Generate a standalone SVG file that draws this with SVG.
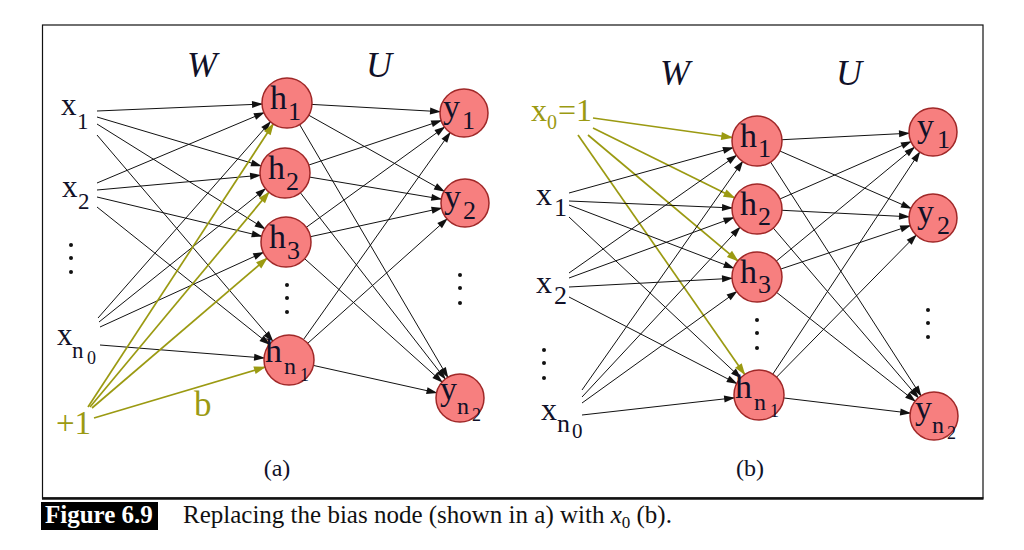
<svg xmlns="http://www.w3.org/2000/svg" width="1024" height="550" viewBox="0 0 1024 550">
<style>
  .e { stroke: #111; stroke-width: 1; fill: none; }
  .eh { marker-end: url(#ah); }
  .ey { marker-end: url(#ay); }
  .o { stroke: #9b9a12; stroke-width: 1.7; fill: none; marker-end: url(#ao); }
  .node { fill: #f77f7f; stroke: #a02828; stroke-width: 1.5; }
  .t { font-family: "Liberation Serif", "Times New Roman", serif; fill: #111128; }
  .m { font-size: 34px; }
  .s { font-size: 26px; }
  .sn { font-size: 24px; }
  .ss { font-size: 18px; }
  .xa { font-size: 31px; }
  .xas { font-size: 23px; }
  .xb { font-size: 32px; }
  .xbs { font-size: 26px; }
  .ol { fill: #9b9a12; }
  .it { font-style: italic; font-size: 36px; text-anchor: middle; }
  .dot { fill: #111; }
</style>
<defs>
  <marker id="ah" markerUnits="userSpaceOnUse" markerWidth="11" markerHeight="7" refX="35" refY="3.5" orient="auto" overflow="visible">
    <path d="M0,0 L11,3.5 L0,7 z" fill="#111"/>
  </marker>
  <marker id="ay" markerUnits="userSpaceOnUse" markerWidth="11" markerHeight="7" refX="34" refY="3.5" orient="auto" overflow="visible">
    <path d="M0,0 L11,3.5 L0,7 z" fill="#111"/>
  </marker>
  <marker id="ao" markerUnits="userSpaceOnUse" markerWidth="12" markerHeight="8" refX="36" refY="4" orient="auto" overflow="visible">
    <path d="M0,0 L12,4 L0,8 z" fill="#9b9a12"/>
  </marker>
</defs>
<rect width="1024" height="550" fill="#fff"/>
<g id="frame">
  <rect x="42.5" y="25" width="940.5" height="473" fill="none" stroke="#111" stroke-width="1.2"/>
  <line x1="42" y1="498.5" x2="983.5" y2="498.5" stroke="#111" stroke-width="2.5"/>
</g>
<g id="connectors">
  <line class="e eh" x1="97" y1="111" x2="287" y2="103"/>
  <line class="e eh" x1="97" y1="117" x2="285" y2="173"/>
  <line class="e eh" x1="97" y1="124" x2="286" y2="242"/>
  <line class="e eh" x1="97" y1="135" x2="289" y2="360"/>
  <line class="e eh" x1="97" y1="183" x2="287" y2="103"/>
  <line class="e eh" x1="97" y1="190" x2="285" y2="173"/>
  <line class="e eh" x1="97" y1="197" x2="286" y2="242"/>
  <line class="e eh" x1="97" y1="207" x2="289" y2="360"/>
  <line class="e eh" x1="98" y1="318" x2="287" y2="103"/>
  <line class="e eh" x1="99" y1="322" x2="285" y2="173"/>
  <line class="e eh" x1="100" y1="327" x2="286" y2="242"/>
  <line class="e eh" x1="100" y1="345" x2="289" y2="360"/>
  <line class="o" x1="88" y1="407" x2="287" y2="103"/>
  <line class="o" x1="90" y1="407" x2="285" y2="173"/>
  <line class="o" x1="92" y1="408" x2="286" y2="242"/>
  <line class="o" x1="94" y1="418" x2="289" y2="360"/>
  <line class="e ey" x1="287" y1="103" x2="464" y2="113"/>
  <line class="e ey" x1="287" y1="103" x2="465" y2="203"/>
  <line class="e ey" x1="287" y1="103" x2="460" y2="398"/>
  <line class="e ey" x1="285" y1="173" x2="464" y2="113"/>
  <line class="e ey" x1="285" y1="173" x2="465" y2="203"/>
  <line class="e ey" x1="285" y1="173" x2="460" y2="398"/>
  <line class="e ey" x1="286" y1="242" x2="464" y2="113"/>
  <line class="e ey" x1="286" y1="242" x2="465" y2="203"/>
  <line class="e ey" x1="286" y1="242" x2="460" y2="398"/>
  <line class="e ey" x1="289" y1="360" x2="464" y2="113"/>
  <line class="e ey" x1="289" y1="360" x2="465" y2="203"/>
  <line class="e ey" x1="289" y1="360" x2="460" y2="398"/>
  <line class="o" x1="593" y1="118" x2="757" y2="141"/>
  <line class="o" x1="593" y1="128" x2="757" y2="209"/>
  <line class="o" x1="588" y1="135" x2="757" y2="277"/>
  <line class="o" x1="578" y1="135" x2="759" y2="395"/>
  <line class="e eh" x1="569" y1="193" x2="757" y2="141"/>
  <line class="e eh" x1="569" y1="201" x2="757" y2="209"/>
  <line class="e eh" x1="569" y1="205" x2="757" y2="277"/>
  <line class="e eh" x1="569" y1="217" x2="759" y2="395"/>
  <line class="e eh" x1="569" y1="273" x2="757" y2="141"/>
  <line class="e eh" x1="569" y1="278" x2="757" y2="209"/>
  <line class="e eh" x1="569" y1="287" x2="757" y2="277"/>
  <line class="e eh" x1="569" y1="297" x2="759" y2="395"/>
  <line class="e eh" x1="582" y1="390" x2="757" y2="141"/>
  <line class="e eh" x1="582" y1="397" x2="757" y2="209"/>
  <line class="e eh" x1="582" y1="403" x2="757" y2="277"/>
  <line class="e eh" x1="582" y1="415" x2="759" y2="395"/>
  <line class="e ey" x1="757" y1="141" x2="933" y2="132"/>
  <line class="e ey" x1="757" y1="141" x2="933" y2="218"/>
  <line class="e ey" x1="757" y1="141" x2="934" y2="416"/>
  <line class="e ey" x1="757" y1="209" x2="933" y2="132"/>
  <line class="e ey" x1="757" y1="209" x2="933" y2="218"/>
  <line class="e ey" x1="757" y1="209" x2="934" y2="416"/>
  <line class="e ey" x1="757" y1="277" x2="933" y2="132"/>
  <line class="e ey" x1="757" y1="277" x2="933" y2="218"/>
  <line class="e ey" x1="757" y1="277" x2="934" y2="416"/>
  <line class="e ey" x1="759" y1="395" x2="933" y2="132"/>
  <line class="e ey" x1="759" y1="395" x2="933" y2="218"/>
  <line class="e ey" x1="759" y1="395" x2="934" y2="416"/>
</g>
<g id="a-weights">
  <text class="t it" x="202" y="77">W</text>
  <text class="t it" x="379" y="77">U</text>
</g>
<g id="a-x1"><text class="t xa" x="61" y="115">x<tspan class="xas" x="77" y="129">1</tspan></text></g>
<g id="a-x2"><text class="t xa" x="62" y="197">x<tspan class="xas" x="78" y="209">2</tspan></text></g>
<g id="a-xdots"><circle class="dot" cx="71" cy="245" r="2"/><circle class="dot" cx="71" cy="258" r="2"/><circle class="dot" cx="71" cy="272" r="2"/></g>
<g id="a-xn0"><text class="t xa" x="57" y="345">x<tspan class="xas" x="72" y="358">n</tspan><tspan class="ss" x="87" y="364">0</tspan></text></g>
<g id="a-bias"><text class="t ol" x="56" y="434" font-size="33">+1</text></g>
<g id="a-b"><text class="t ol" x="194" y="416" font-size="35">b</text></g>
<g id="a-h1"><circle class="node" cx="287" cy="103" r="25"/><text class="t m" x="270" y="109">h<tspan class="s" x="288" y="120">1</tspan></text></g>
<g id="a-h2"><circle class="node" cx="285" cy="173" r="25"/><text class="t m" x="268" y="179">h<tspan class="s" x="286" y="190">2</tspan></text></g>
<g id="a-h3"><circle class="node" cx="286" cy="242" r="25"/><text class="t m" x="269" y="248">h<tspan class="s" x="287" y="259">3</tspan></text></g>
<g id="a-hdots"><circle class="dot" cx="287" cy="285" r="2"/><circle class="dot" cx="287" cy="298" r="2"/><circle class="dot" cx="287" cy="312" r="2"/></g>
<g id="a-hn1"><circle class="node" cx="289" cy="360" r="25"/><text class="t m" x="265" y="362">h<tspan class="sn" x="284" y="374">n</tspan><tspan class="ss" x="300" y="381">1</tspan></text></g>
<g id="a-y1"><circle class="node" cx="464" cy="113" r="24"/><text class="t m" x="443" y="118">y<tspan class="s" x="462" y="129">1</tspan></text></g>
<g id="a-y2"><circle class="node" cx="465" cy="203" r="24"/><text class="t m" x="444" y="208">y<tspan class="s" x="463" y="219">2</tspan></text></g>
<g id="a-ydots"><circle class="dot" cx="460" cy="275" r="2"/><circle class="dot" cx="460" cy="288" r="2"/><circle class="dot" cx="460" cy="303" r="2"/></g>
<g id="a-yn2"><circle class="node" cx="460" cy="398" r="24"/><text class="t m" x="440" y="400">y<tspan class="sn" x="457" y="414">n</tspan><tspan class="ss" x="472" y="421">2</tspan></text></g>
<g id="a-caption"><text class="t" x="277" y="476" font-size="24" text-anchor="middle">(a)</text></g>
<g id="b-weights">
  <text class="t it" x="675" y="85">W</text>
  <text class="t it" x="849" y="85">U</text>
</g>
<g id="b-x0"><text class="t ol xb" x="531" y="121">x<tspan font-size="20" x="547" y="129">0</tspan><tspan x="558" y="121">=1</tspan></text></g>
<g id="b-x1"><text class="t xb" x="536" y="205">x<tspan class="xbs" x="554" y="216">1</tspan></text></g>
<g id="b-x2"><text class="t xb" x="536" y="293">x<tspan class="xbs" x="554" y="304">2</tspan></text></g>
<g id="b-xdots"><circle class="dot" cx="544" cy="350" r="2"/><circle class="dot" cx="544" cy="363" r="2"/><circle class="dot" cx="544" cy="378" r="2"/></g>
<g id="b-xn0"><text class="t xb" x="541" y="420">x<tspan class="xbs" x="557" y="432">n</tspan><tspan font-size="21" x="572" y="438">0</tspan></text></g>
<g id="b-h1"><circle class="node" cx="757" cy="141" r="25"/><text class="t m" x="740" y="147">h<tspan class="s" x="758" y="157">1</tspan></text></g>
<g id="b-h2"><circle class="node" cx="757" cy="209" r="25"/><text class="t m" x="740" y="215">h<tspan class="s" x="758" y="225">2</tspan></text></g>
<g id="b-h3"><circle class="node" cx="757" cy="277" r="25"/><text class="t m" x="740" y="283">h<tspan class="s" x="758" y="293">3</tspan></text></g>
<g id="b-hdots"><circle class="dot" cx="757" cy="320" r="2"/><circle class="dot" cx="757" cy="333" r="2"/><circle class="dot" cx="757" cy="348" r="2"/></g>
<g id="b-hn1"><circle class="node" cx="759" cy="395" r="25"/><text class="t m" x="735" y="398">h<tspan class="sn" x="754" y="410">n</tspan><tspan class="ss" x="770" y="417">1</tspan></text></g>
<g id="b-y1"><circle class="node" cx="933" cy="132" r="24"/><text class="t m" x="917" y="137">y<tspan class="s" x="937" y="148">1</tspan></text></g>
<g id="b-y2"><circle class="node" cx="933" cy="218" r="24"/><text class="t m" x="917" y="223">y<tspan class="s" x="937" y="234">2</tspan></text></g>
<g id="b-ydots"><circle class="dot" cx="928" cy="310" r="2"/><circle class="dot" cx="928" cy="323" r="2"/><circle class="dot" cx="928" cy="337" r="2"/></g>
<g id="b-yn2"><circle class="node" cx="934" cy="416" r="24"/><text class="t m" x="915" y="419">y<tspan class="sn" x="932" y="433">n</tspan><tspan class="ss" x="947" y="439">2</tspan></text></g>
<g id="b-caption"><text class="t" x="750" y="476" font-size="24" text-anchor="middle">(b)</text></g>
<g id="figure-caption">
  <rect x="41" y="502" width="117" height="28" fill="#000"/>
  <text x="45" y="523" font-family="Liberation Serif, serif" font-weight="bold" font-size="25" fill="#fff">Figure 6.9</text>
  <text x="183" y="523" font-family="Liberation Serif, serif" font-size="25" fill="#111">Replacing the bias node (shown in a) with <tspan font-style="italic">x</tspan><tspan font-size="17" dy="5">0</tspan><tspan dy="-5"> (b).</tspan></text>
</g>
</svg>
